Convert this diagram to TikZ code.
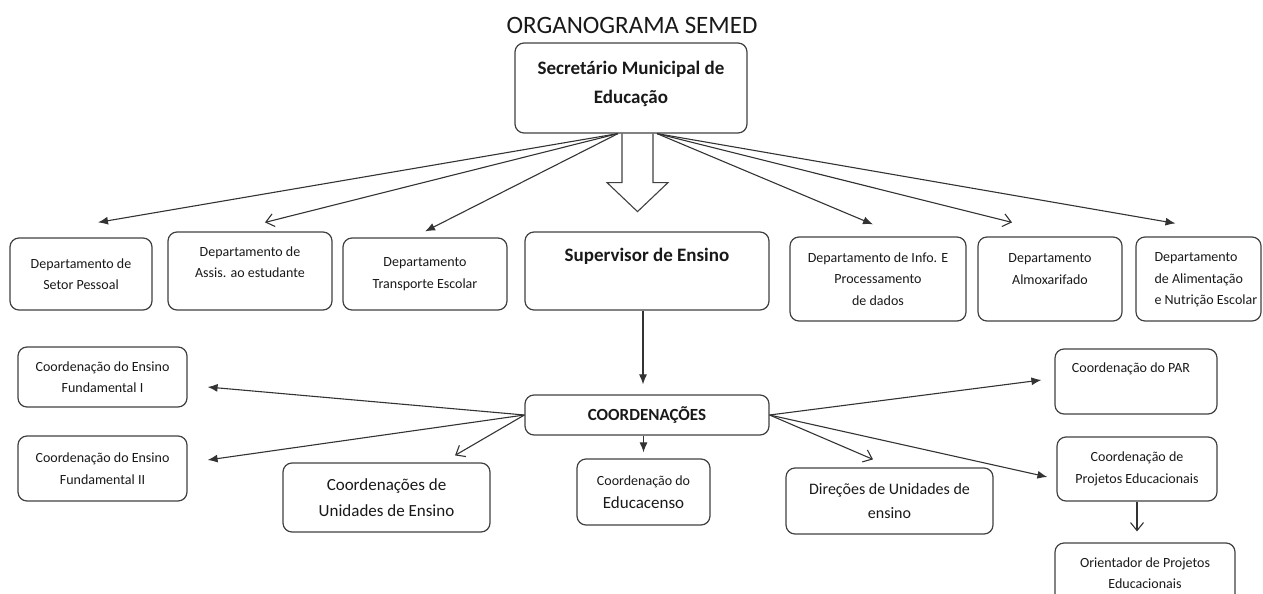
\documentclass[tikz,border=0pt]{standalone}
\usepackage{fontspec}
\setmainfont{Carlito}
\usetikzlibrary{arrows.meta}

\tikzset{
  box/.style={draw=black!75, line width=1.2pt, rounded corners=9pt, align=center, inner sep=0pt},
  sm/.style={font=\fontsize{14}{21.5}\selectfont, align=center},
  fl/.style={draw=black!80, line width=1.1pt, -{Latex[length=10pt,width=8pt]}},
  op/.style={draw=black!80, line width=1.1pt, -{Straight Barb[length=8pt,width=13pt]}},
}

\begin{document}
\begin{tikzpicture}[x=1pt,y=-1pt,text=black!90]
\useasboundingbox (0,0) rectangle (1263,594);
\clip (0,0) rectangle (1263,594);

\node (title) at (632,25) {\fontsize{25}{30}\selectfont ORGANOGRAMA SEMED};
\node[box, minimum width=232, minimum height=90] (sec) at (631,88) {};
\node[font=\fontsize{19}{29}\selectfont\bfseries, align=center] (sect) at (631,84) {Secretário Municipal de\\Educação};

\node[box, sm, minimum width=142, minimum height=72] (d1) at (81,274) {Departamento de\\Setor Pessoal};
\node[box, minimum width=164, minimum height=78] (d2) at (250,271) {};
\node[sm] (d2t) at (250,262) {Departamento de\\Assis. ao estudante};
\node[box, sm, minimum width=164, minimum height=72] (d3) at (425,274) {Departamento\\Transporte Escolar};
\node[box, minimum width=244, minimum height=78] (sup) at (647,271) {};
\node[font=\fontsize{19}{23}\selectfont\bfseries] (supt) at (647,256) {Supervisor de Ensino};
\node[box, sm, minimum width=176, minimum height=84] (d5) at (878,279) {Departamento de Info. E\\Processamento\\de dados};
\node[box, minimum width=144, minimum height=84] (d6) at (1050,279) {};
\node[sm] (d6t) at (1050,269) {Departamento\\Almoxarifado};
\node[box, minimum width=125, minimum height=84] (d7) at (1198.5,279) {};
\node[sm, align=left, anchor=west] (d7t) at (1151,280) {Departamento\\de Alimentação\\e Nutrição Escolar};

\node[box, minimum width=244, minimum height=40, font=\fontsize{17}{21}\selectfont\bfseries] (coord) at (647,415) {COORDENAÇÕES};
\node[box, sm, minimum width=169, minimum height=60] (f1) at (102.5,377) {Coordenação do Ensino\\Fundamental I};
\node[box, sm, minimum width=169, minimum height=65] (f2) at (102.5,468.5) {Coordenação do Ensino\\Fundamental II};
\node[box, minimum width=207, minimum height=69, font=\fontsize{17}{26}\selectfont] (u) at (386.5,497.5) {Coordenações de\\Unidades de Ensino};
\node[box, minimum width=133, minimum height=66, font=\fontsize{14}{23}\selectfont] (edu) at (643.5,492) {Coordenação do\\{\fontsize{17}{23}\selectfont Educacenso}};
\node[box, minimum width=207, minimum height=66, font=\fontsize{16}{24}\selectfont] (dir) at (889.5,501) {Direções de Unidades de\\ensino};
\node[box, minimum width=162, minimum height=65] (par) at (1136,381.5) {};
\node[sm] (part) at (1131,369) {Coordenação do PAR};
\node[box, sm, minimum width=160, minimum height=64] (proj) at (1137,469) {Coordenação de\\Projetos Educacionais};
\node[box, sm, minimum width=180, minimum height=60] (ori) at (1145,573) {Orientador de Projetos\\Educacionais};

\draw[fl] ([shift={(-13,0)}]sec.south) -- ([shift={(17,-15)}]d1.north);
\draw[op] ([shift={(-13,0)}]sec.south) -- ([shift={(15,-9)}]d2.north);
\draw[fl] ([shift={(-13,0)}]sec.south) -- ([shift={(0,-6)}]d3.north);
\draw[fl] ([shift={(26,0)}]sec.south) -- ([shift={(-5,-12)}]d5.north);
\draw[op] ([shift={(26,0)}]sec.south) -- ([shift={(-38,-14)}]d6.north);
\draw[fl] ([shift={(26,0)}]sec.south) -- ([shift={(-23,-13)}]d7.north);
\draw[line width=1.1pt, black!75] ([shift={(-9,0)}]sec.south) -- ++(0,49) -- ++(-15,0) -- ++(30.5,29) -- ++(30.5,-29) -- ++(-15,0) -- ++(0,-49);

\draw[fl] ([shift={(-4,0)}]sup.south) -- ([shift={(-4,-10)}]coord.north);
\draw[fl] (coord.west) -- ([shift={(20,10)}]f1.east);
\draw[fl] (coord.west) -- ([shift={(20,-8.5)}]f2.east);
\draw[op] (coord.west) -- ([shift={(68.5,-7)}]u.north);
\draw[fl] (edu.north |- coord.south) -- ([shift={(0,-6)}]edu.north);
\draw[op] (coord.east) -- ([shift={(-16.5,-8)}]dir.north);
\draw[fl] (coord.east) -- ([shift={(-13,-1.5)}]par.west);
\draw[fl] (coord.east) -- ([shift={(-9,8)}]proj.west);
\draw[op] (proj.south) -- ([shift={(-8,-11)}]ori.north);
\end{tikzpicture}
\end{document}
